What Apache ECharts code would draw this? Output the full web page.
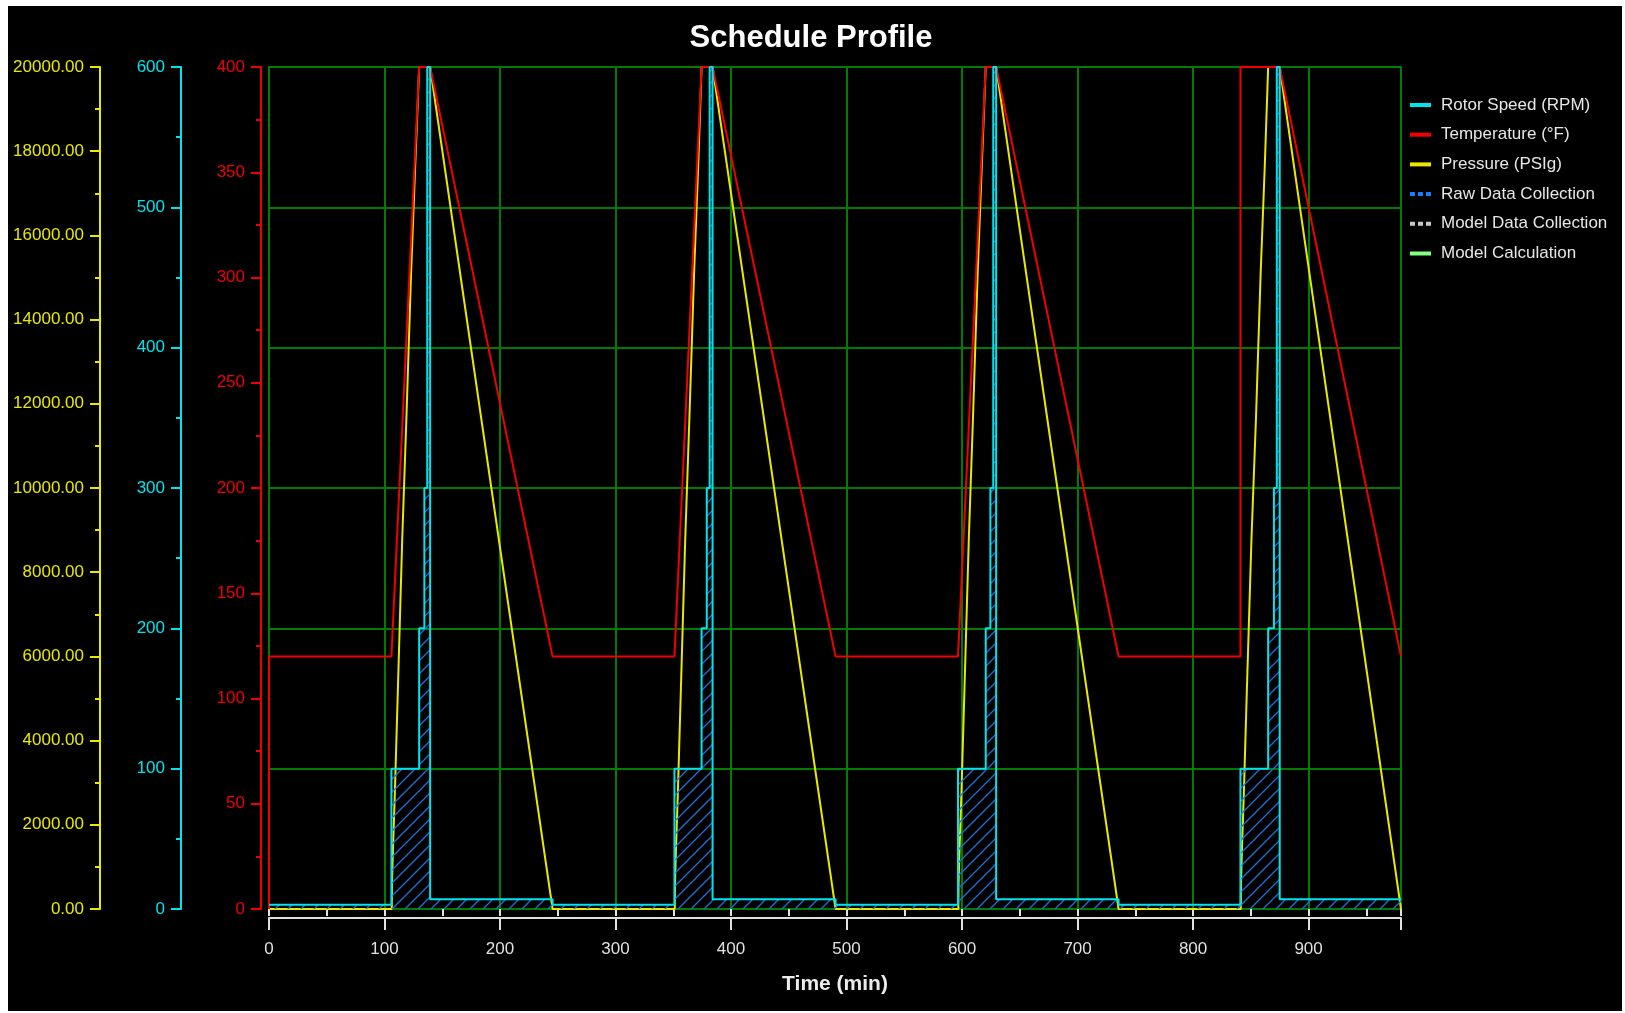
<!DOCTYPE html>
<html>
<head>
<meta charset="utf-8">
<title>Schedule Profile</title>
<script src="https://cdn.jsdelivr.net/npm/echarts@6/dist/echarts.min.js"></script>
<style>
  html, body { margin: 0; padding: 0; background: #ffffff; }
  #chart { position: absolute; left: 8px; top: 6px; width: 1614px; height: 1005px; background: #000000; }
</style>
</head>
<body>
<div id="chart"></div>
<script>
// ---- Schedule data: [time (min), value] ----
const rotorSpeed = [
  [0, 3], [106, 100], [130, 200], [134.5, 300], [137, 600], [139.5, 7], [245.5, 3],
  [351, 100], [374.5, 200], [379, 300], [381.5, 600], [384, 7], [490.5, 3],
  [596.5, 100], [620.5, 200], [624.5, 300], [627, 600], [629.5, 7], [735.5, 3],
  [841, 100], [865, 200], [870, 300], [872.5, 600], [875, 7], [980, 7]
];

const temperature = [
  [0, 0], [0, 120], [106, 120], [130, 400], [139.5, 400], [245.5, 120],
  [351, 120], [374.5, 400], [384, 400], [490.5, 120],
  [596.5, 120], [620.5, 400], [629.5, 400], [735.5, 120],
  [841, 120], [841, 400], [875, 400], [980, 120]
];

const pressure = [
  [0, 0], [106.3, 0], [106.5, 600], [107.3, 1400], [109, 2800], [111.5, 5150], [115.3, 8750],
  [119, 11700], [123, 15100], [126.5, 17600], [130, 20000], [139.5, 20000], [245.5, 0],
  [351.3, 0], [351.5, 600], [352.3, 1400], [354, 2800], [356.5, 5150], [360.3, 8750],
  [364, 11700], [368, 15100], [371.5, 17600], [374.5, 20000], [384, 20000], [490.5, 0],
  [596.8, 0], [597, 600], [597.8, 1400], [599.5, 2800], [602, 5150], [605.8, 8750],
  [609.5, 11700], [613.5, 15100], [617, 17600], [620.5, 20000], [629.5, 20000], [735.5, 0],
  [841.3, 0], [841.5, 600], [842.3, 1400], [844, 2800], [846.5, 5150], [850.5, 8750],
  [854.5, 11700], [858.5, 15100], [862, 17600], [865, 20000], [875, 20000], [980, 0]
];

// ---- Axis ranges and steps ----
const timeRange = [0, 980];
const timeStep = 100;
const timeMinorStep = 50;
const pressureRange = [0, 20000];
const pressureStep = 2000;
const rotorRange = [0, 600];
const rotorStep = 100;
const temperatureRange = [0, 400];
const temperatureStep = 50;

const legendNames = [
  'Rotor Speed (RPM)', 'Temperature (°F)', 'Pressure (PSIg)',
  'Raw Data Collection', 'Model Data Collection', 'Model Calculation'
];

// ---- Palette ----
const CYAN = '#00e4ee';
const RED = '#f00000';
const YELLOW = '#e8e800';
const GRID_GREEN = '#007c00';
const AXIS_WHITE = '#e0e0e0';
const RAW_BLUE = '#1a7cff';
const MODEL_GREY = '#c8c8c8';
const CALC_GREEN = '#80ff80';

// Prefer a narrow face for tick and legend text when it is installed.
function fontAvailable(name) {
  const ctx = document.createElement('canvas').getContext('2d');
  const sample = 'mmmmmmmmmmlli0123456789WWW';
  ctx.font = '48px monospace';
  const base = ctx.measureText(sample).width;
  ctx.font = '48px "' + name + '", monospace';
  return ctx.measureText(sample).width !== base;
}
const hasNarrow = fontAvailable('Liberation Sans Narrow');
const smallFont = hasNarrow ? '"Liberation Sans Narrow", "Liberation Sans", Arial' : '"Liberation Sans", Arial, sans-serif';
const smallSize = hasNarrow ? 21 : 17;

// Diagonal hatch used under the rotor speed trace.
const hatch = document.createElement('canvas');
hatch.width = 13; hatch.height = 13;
(function () {
  const g = hatch.getContext('2d');
  g.strokeStyle = '#1f6fd8';
  g.lineWidth = 1.3;
  g.beginPath();
  g.moveTo(0, 13); g.lineTo(13, 0);
  g.moveTo(-2, 2); g.lineTo(2, -2);
  g.moveTo(11, 15); g.lineTo(15, 11);
  g.stroke();
})();

const dots = 'path://M0,0h5v4h-5z M8,0h5v4h-5z M16,0h5v4h-5z';

function valueAxis(color, offset, range, step, extra) {
  return Object.assign({
    type: 'value',
    position: 'left',
    offset: offset,
    min: range[0],
    max: range[1],
    interval: step,
    axisLine: { show: true, onZero: false, lineStyle: { color: color, width: 2 } },
    axisTick: { show: true, length: 10, lineStyle: { color: color, width: 2 } },
    minorTick: { show: true, splitNumber: 2, length: 5, lineStyle: { color: color, width: 2 } },
    axisLabel: { color: color, fontFamily: smallFont, fontSize: smallSize, margin: 16 },
    splitLine: { show: false }
  }, extra || {});
}

const chart = echarts.init(document.getElementById('chart'), null, { renderer: 'canvas' });

chart.setOption({
  backgroundColor: '#000000',
  animation: false,
  title: {
    text: 'Schedule Profile',
    left: 803,
    top: 14.5,
    padding: 0,
    textAlign: 'center',
    textStyle: { color: '#ffffff', fontFamily: '"Liberation Sans", Arial, sans-serif', fontWeight: 'bold', fontSize: 31, lineHeight: 36 }
  },
  grid: {
    left: 261, top: 61, width: 1132, height: 842,
    show: true, borderColor: GRID_GREEN, borderWidth: 2, backgroundColor: 'transparent'
  },
  legend: {
    orient: 'vertical',
    left: 1402,
    top: 88,
    padding: 0,
    itemGap: 7.7,
    itemWidth: 21,
    itemHeight: 4,
    selectedMode: false,
    textStyle: { color: '#e6e6e6', fontFamily: smallFont, fontSize: smallSize, lineHeight: 22, padding: [0, 0, 0, 5] },
    data: [
      { name: legendNames[0], icon: 'rect' },
      { name: legendNames[1], icon: 'rect' },
      { name: legendNames[2], icon: 'rect' },
      { name: legendNames[3], icon: dots },
      { name: legendNames[4], icon: dots },
      { name: legendNames[5], icon: 'rect' }
    ]
  },
  xAxis: [
    {
      type: 'value',
      position: 'bottom',
      offset: 9,
      min: timeRange[0],
      max: timeRange[1],
      interval: timeStep,
      name: 'Time (min)',
      nameLocation: 'middle',
      nameGap: 56,
      nameTextStyle: { color: '#ececec', fontFamily: '"Liberation Sans", Arial, sans-serif', fontWeight: 'bold', fontSize: 21 },
      axisLine: { show: true, onZero: false, lineStyle: { color: AXIS_WHITE, width: 2 } },
      axisTick: { show: true, length: 12, lineStyle: { color: AXIS_WHITE, width: 2 } },
      axisLabel: {
        color: AXIS_WHITE, fontFamily: smallFont, fontSize: smallSize, margin: 23,
        formatter: function (v) { return v % timeStep === 0 ? String(v) : ''; }
      },
      splitLine: { show: true, lineStyle: { color: GRID_GREEN, width: 2 } }
    },
    {
      type: 'value',
      position: 'bottom',
      offset: 9,
      min: timeRange[0],
      max: timeRange[1],
      interval: timeMinorStep,
      axisLine: { show: false },
      axisTick: { show: true, length: 7, lineStyle: { color: AXIS_WHITE, width: 2 } },
      axisLabel: { show: false },
      splitLine: { show: false }
    }
  ],
  yAxis: [
    valueAxis(YELLOW, 169, pressureRange, pressureStep, {
      axisLabel: {
        color: YELLOW, fontFamily: smallFont, fontSize: smallSize, margin: 16,
        formatter: function (v) { return v.toFixed(2); }
      }
    }),
    valueAxis(CYAN, 88, rotorRange, rotorStep, {
      splitLine: { show: true, lineStyle: { color: GRID_GREEN, width: 2 } }
    }),
    valueAxis(RED, 8, temperatureRange, temperatureStep)
  ],
  series: [
    {
      name: legendNames[0],
      type: 'line',
      step: 'end',
      xAxisIndex: 0,
      yAxisIndex: 1,
      data: rotorSpeed,
      symbol: 'none',
      clip: false,
      z: 5,
      itemStyle: { color: CYAN },
      lineStyle: { color: CYAN, width: 2 },
      areaStyle: { color: { image: hatch, repeat: 'repeat' }, opacity: 1 }
    },
    {
      name: legendNames[1],
      type: 'line',
      xAxisIndex: 0,
      yAxisIndex: 2,
      data: temperature,
      symbol: 'none',
      clip: false,
      z: 4,
      itemStyle: { color: RED },
      lineStyle: { color: RED, width: 2 }
    },
    {
      name: legendNames[2],
      type: 'line',
      xAxisIndex: 0,
      yAxisIndex: 0,
      data: pressure,
      symbol: 'none',
      clip: false,
      z: 3,
      itemStyle: { color: YELLOW },
      lineStyle: { color: YELLOW, width: 2 }
    },
    { name: legendNames[3], type: 'line', data: [], symbol: 'none', itemStyle: { color: RAW_BLUE }, lineStyle: { color: RAW_BLUE } },
    { name: legendNames[4], type: 'line', data: [], symbol: 'none', itemStyle: { color: MODEL_GREY }, lineStyle: { color: MODEL_GREY } },
    { name: legendNames[5], type: 'line', data: [], symbol: 'none', itemStyle: { color: CALC_GREEN }, lineStyle: { color: CALC_GREEN } }
  ]
});
</script>
</body>
</html>
